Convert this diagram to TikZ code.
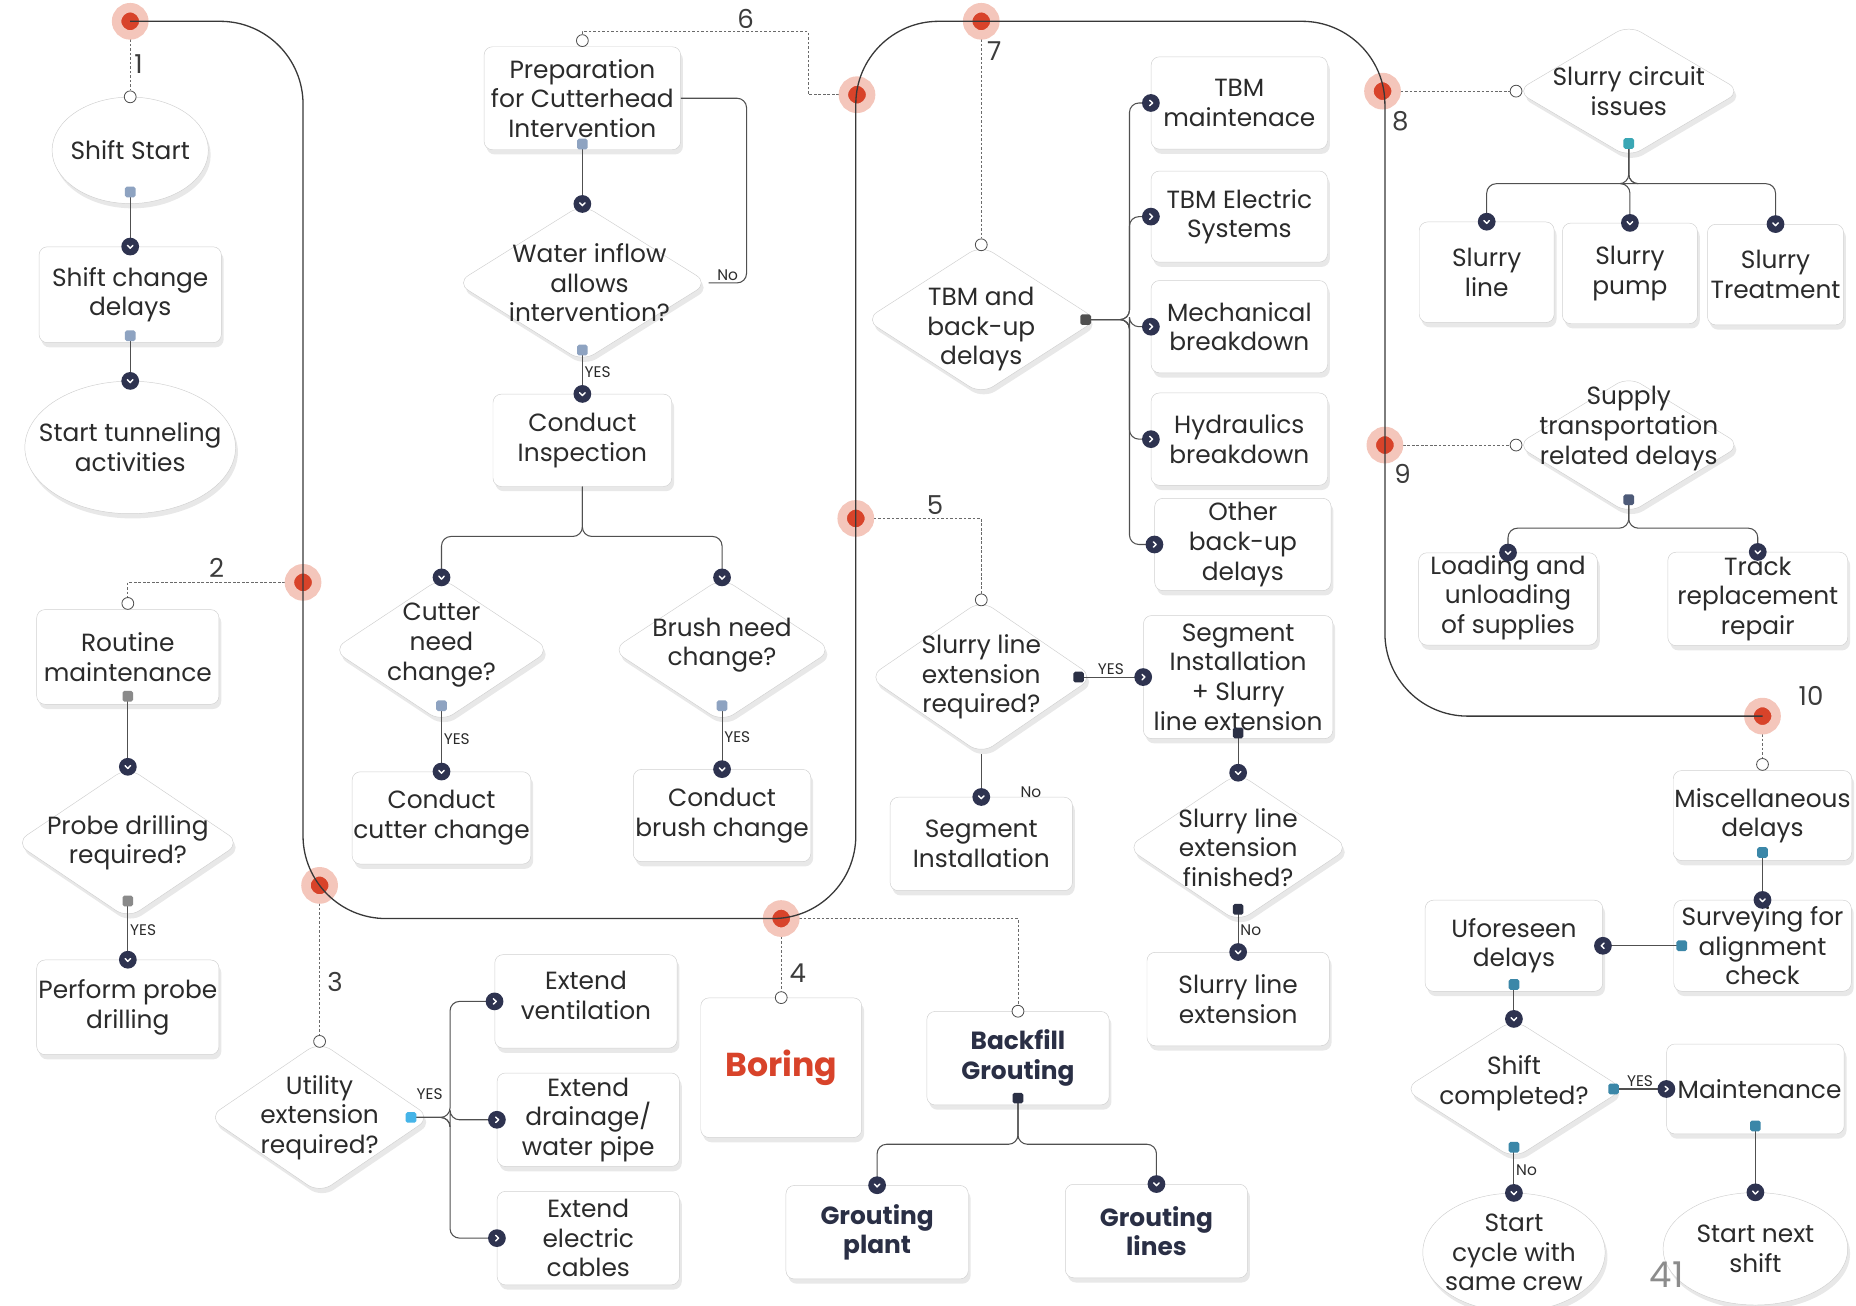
\documentclass[tikz,border=0pt]{standalone}
\usepackage{fontspec}
\setmainfont{Poppins}
\usetikzlibrary{shapes.geometric,shadows}

\definecolor{ink}{HTML}{2B2B2B}
\definecolor{boldink}{HTML}{2A2F45}
\definecolor{navy}{HTML}{2E3350}
\definecolor{rim}{HTML}{D0D0D0}
\definecolor{wire}{HTML}{505050}
\definecolor{spinegray}{HTML}{383838}
\definecolor{stampred}{HTML}{D8432A}
\definecolor{halo}{HTML}{F4C6BB}
\definecolor{slate}{HTML}{8EA3C1}
\definecolor{ash}{HTML}{8A8A8A}
\definecolor{sky}{HTML}{45B4E8}
\definecolor{aqua}{HTML}{3AA7B5}
\definecolor{inkbox}{HTML}{2B3045}
\definecolor{dusk}{HTML}{4D5A78}
\definecolor{steel}{HTML}{3B87A8}
\definecolor{pagegray}{HTML}{8C8C8C}
\definecolor{numgray}{HTML}{3C3C3C}

\tikzset{
  soft/.style={drop shadow={shadow xshift=2pt, shadow yshift=-4pt, opacity=.09, fill=black}},
  task/.style={draw=rim, fill=white, rounded corners=7pt, align=center, inner sep=1pt,
    text=ink, soft, minimum width=154pt, minimum height=79pt},
  query/.style={diamond, draw=rim, fill=white, rounded corners=12pt, inner sep=0pt, soft},
  terminal/.style={ellipse, draw=rim, fill=white, inner sep=0pt, soft},
  words/.style={align=center, text=ink, inner sep=0pt},
  heavy/.style={font=\fontsize{21}{25}\selectfont\bfseries, text=boldink},
  flow/.style={draw=wire, line width=.9pt, rounded corners=8pt},
  hint/.style={draw=wire!85, line width=.8pt, dash pattern=on 2.2pt off 1.6pt},
  spine/.style={draw=spinegray, line width=1.1pt, rounded corners=70pt},
  outlet/.style={fill=#1, rounded corners=1.5pt, minimum size=9pt, inner sep=0pt},
  inlet/.style={circle, draw=wire, fill=white, line width=.7pt, minimum size=10pt, inner sep=0pt},
  stamp/.style={circle, fill=stampred, draw=halo, line width=8pt, minimum size=23pt, inner sep=0pt},
  numtag/.style={font=\fontsize{22}{22}\selectfont, text=numgray, inner sep=0pt},
  answer/.style={font=\fontsize{13}{13}\selectfont, text=ink, inner sep=1.5pt},
  chevron/.style={draw=white, fill=none, sharp corners, line width=1.2pt, line cap=round, line join=round},
  downtip/.style={circle, fill=navy, inner sep=0pt, minimum size=15pt,
    path picture={\draw[chevron]
      ([shift={(-2.3pt,1pt)}]path picture bounding box.center) --
      ([shift={(0pt,-1.4pt)}]path picture bounding box.center) --
      ([shift={(2.3pt,1pt)}]path picture bounding box.center);}},
  righttip/.style={circle, fill=navy, inner sep=0pt, minimum size=15pt,
    path picture={\draw[chevron]
      ([shift={(-1pt,2.3pt)}]path picture bounding box.center) --
      ([shift={(1.4pt,0pt)}]path picture bounding box.center) --
      ([shift={(-1pt,-2.3pt)}]path picture bounding box.center);}},
  lefttip/.style={circle, fill=navy, inner sep=0pt, minimum size=15pt,
    path picture={\draw[chevron]
      ([shift={(1pt,2.3pt)}]path picture bounding box.center) --
      ([shift={(-1.4pt,0pt)}]path picture bounding box.center) --
      ([shift={(1pt,-2.3pt)}]path picture bounding box.center);}},
}

\begin{document}
\begin{tikzpicture}[x=1pt, y=-1pt, font=\fontsize{21}{25}\selectfont]
\useasboundingbox (0,0) rectangle (1568,1103);

% stations along the spine
\coordinate (p1) at (110,18);
\coordinate (p2) at (256,492);
\coordinate (p3) at (270,748);
\coordinate (p4) at (660,776);
\coordinate (p5) at (723,438);
\coordinate (p6) at (724,80);
\coordinate (p7) at (829,18);
\coordinate (p8) at (1168,77);
\coordinate (p9) at (1170,376);
\coordinate (p10) at (1489,605);

% shift start / routine
\node[terminal, minimum width=132pt, minimum height=90pt, label={[words]center:Shift Start}] (shiftstart) at (110,127) {};
\node[task, minimum height=81pt] (shiftdelay) at (110,249) {Shift change\\delays};
\node[terminal, minimum width=178pt, minimum height=112pt, label={[words]center:Start tunneling\\activities}] (tunnel) at (110,378) {};
\node[task, minimum height=80pt] (routine) at (108,555) {Routine\\maintenance};
\node[query, minimum width=190pt, minimum height=128pt, label={[words]center:Probe drilling\\required?}] (probe) at (108,712) {};
\node[task, minimum height=80pt] (probedrill) at (108,851) {Perform probe\\drilling};

% cutterhead intervention
\node[task, minimum width=166pt, minimum height=87pt] (prep) at (492,83) {Preparation\\for Cutterhead\\Intervention};
\node[query, minimum width=213pt, minimum height=133pt, label={[words, xshift=6pt]center:Water inflow\\allows\\intervention?}] (water) at (492,239) {};
\node[task, minimum width=151pt, minimum height=78pt] (inspect) at (492,372) {Conduct\\Inspection};
\node[query, minimum width=184pt, minimum height=122pt, label={[words, yshift=4pt]center:Cutter\\need\\change?}] (cutter) at (373,549) {};
\node[query, minimum width=186pt, minimum height=122pt, label={[words, yshift=4pt]center:Brush need\\change?}] (brush) at (610,549) {};
\node[task, minimum width=149pt, minimum height=78pt] (cutterchg) at (373,691) {Conduct\\cutter change};
\node[task, minimum width=150pt, minimum height=78pt] (brushchg) at (610,689) {Conduct\\brush change};

% utilities
\node[query, minimum width=188pt, minimum height=128pt, label={[words]center:Utility\\extension\\required?}] (utility) at (270,944) {};
\node[task, text depth=10pt] (vent) at (495,846) {Extend\\ventilation};
\node[task] (drain) at (497,946) {Extend\\drainage/\\water pipe};
\node[task] (cables) at (497,1046) {Extend\\electric\\cables};

% boring and grouting
\node[task, minimum width=136pt, minimum height=118pt, text=stampred,
  font=\fontsize{28}{28}\selectfont\bfseries] (boring) at (660,902) {Boring};
\node[task, heavy] (backfill) at (860,894) {Backfill\\Grouting};
\node[task, heavy] (gplant) at (741,1041) {Grouting\\plant};
\node[task, heavy] (glines) at (977,1040) {Grouting\\lines};

% TBM delays
\node[query, minimum width=196pt, minimum height=126pt, label={[words, yshift=-8pt]center:TBM and\\back-up\\delays}] (tbm) at (829,270) {};
\node[task, minimum width=149pt, minimum height=78pt] (tbmmaint) at (1047,87) {TBM\\maintenace};
\node[task, minimum width=149pt, minimum height=77pt] (tbmelec) at (1047,183) {TBM Electric\\Systems};
\node[task, minimum width=149pt, minimum height=78pt] (mech) at (1047,276) {Mechanical\\breakdown};
\node[task, minimum width=149pt, minimum height=78pt] (hydr) at (1047,371) {Hydraulics\\breakdown};
\node[task, minimum width=149pt, minimum height=78pt] (other) at (1050,460) {Other\\back-up\\delays};

% segments and slurry line
\node[query, minimum width=190pt, minimum height=130pt, label={[words]center:Slurry line\\extension\\required?}] (slurryreq) at (829,572) {};
\node[task, minimum width=160pt, minimum height=104pt] (segslurry) at (1046,572) {Segment\\Installation\\+ Slurry\\line extension};
\node[task] (segment) at (829,713) {Segment\\Installation};
\node[query, minimum width=188pt, minimum height=126pt, label={[words]center:Slurry line\\extension\\finished?}] (slurryfin) at (1046,716) {};
\node[task] (slurryext) at (1046,844) {Slurry line\\extension};

% slurry circuit and supplies
\node[query, minimum width=190pt, minimum height=112pt, label={[words]center:Slurry circuit\\issues}] (circuit) at (1376,77) {};
\node[task, minimum width=114pt, minimum height=85pt] (sline) at (1256,230) {Slurry\\line};
\node[task, minimum width=114pt, minimum height=85pt] (spump) at (1377,231) {Slurry\\pump};
\node[task, minimum width=115pt, minimum height=85pt] (streat) at (1500,232) {Slurry\\Treatment};
\node[query, minimum width=190pt, minimum height=116pt, label={[words, yshift=14pt]center:Supply\\transportation\\related delays}] (supply) at (1376,376) {};
\node[task, minimum width=151pt, minimum height=78pt, text depth=8pt] (loading) at (1274,506) {Loading and\\unloading\\of supplies};
\node[task, minimum width=152pt, minimum height=79pt] (track) at (1485,506) {Track\\replacement\\repair};

% end of shift
\node[task, minimum width=150pt, minimum height=76pt] (misc) at (1489,689) {Miscellaneous\\delays};
\node[task, minimum width=150pt, minimum height=77pt] (survey) at (1489,799) {Surveying for\\alignment\\check};
\node[task, minimum width=150pt, minimum height=77pt] (unforeseen) at (1279,799) {Uforeseen\\delays};
\node[query, minimum width=186pt, minimum height=118pt, label={[words, yshift=5pt]center:Shift\\completed?}] (shiftdone) at (1279,920) {};
\node[task, minimum width=150pt, minimum height=76pt] (maint) at (1483,920) {\hspace*{7pt}Maintenance};
\node[terminal, minimum width=154pt, minimum height=100pt, label={[words]center:Start\\cycle with\\same crew}] (samecrew) at (1279,1058) {};
\node[terminal, minimum width=156pt, minimum height=95pt, label={[words]center:Start next\\shift}] (nextshift) at (1483,1055) {};
\node[text=pagegray, font=\fontsize{30}{30}\selectfont] (page) at (1408,1077) {41};

% entry points of the stations
\node[inlet] (h1) at (shiftstart.north) {};
\node[inlet] (h2) at ([yshift=5pt]routine.north) {};
\node[inlet] (h3) at (utility.north) {};
\node[inlet] (h4) at (boring.north) {};
\node[inlet] (h4b) at (backfill.north) {};
\node[inlet] (h5) at (slurryreq.north) {};
\node[inlet] (h6) at ([yshift=5pt]prep.north) {};
\node[inlet] (h7) at (tbm.north) {};
\node[inlet] (h8) at (circuit.west) {};
\node[inlet] (h9) at (supply.west) {};
\node[inlet] (h10) at ([yshift=5pt]misc.north) {};

% dotted feeders
\draw[hint] (p1) -- (h1);
\draw[hint] (p2) -| (h2);
\draw[hint] (p3) -- (h3);
\draw[hint] (p4) -- (h4);
\draw[hint] (p4) -| (h4b);
\draw[hint] (p5) -| (h5);
\draw[hint] (p6) -- ++(-41,0) -- ++(0,-53) -| (h6);
\draw[hint] (p7) -- (h7);
\draw[hint] (p8) -- (h8);
\draw[hint] (p9) -- (h9);
\draw[hint] (p10) -- (h10);

% stations and the spine through them
\foreach \i in {1,...,10}
  \node[stamp] (s\i) at (p\i) {};
\draw[spine] (s1.center) -- (256,18) -- (256,776) -- (723,776) -- (723,18)
  -- (1170,18) -- (1170,605) -- (s10.center);

\node[numtag] (n1) at (117,54) {1};
\node[numtag] (n2) at (183,480) {2};
\node[numtag] (n3) at (283,830) {3};
\node[numtag] (n4) at (674,822) {4};
\node[numtag] (n5) at (790,427) {5};
\node[numtag] (n6) at (630,16) {6};
\node[numtag] (n7) at (840,43) {7};
\node[numtag] (n8) at (1183,102) {8};
\node[numtag] (n9) at (1185,400) {9};
\node[numtag] (n10) at (1530,588) {10};

% shift start / routine
\draw[flow] ([yshift=10pt]shiftstart.south) node[outlet=slate]{} -- (shiftdelay.north) node[downtip]{};
\draw[flow] ([yshift=6pt]shiftdelay.south) node[outlet=slate]{} -- (tunnel.north) node[downtip]{};
\draw[flow] ([yshift=7pt]routine.south) node[outlet=ash]{} -- (probe.north) node[downtip]{};
\draw[flow] ([yshift=15pt]probe.south) node[outlet=ash]{} -- node[answer, right] (yes1) {YES} (probedrill.north) node[downtip]{};

% cutterhead intervention
\draw[flow] ([yshift=5pt]prep.south) node[outlet=slate]{} -- (water.north) node[downtip]{};
\draw[flow] ([yshift=10pt]water.south) node[outlet=slate]{} -- node[answer, right] (yes2) {YES} (inspect.north) node[downtip]{};
\draw[flow] (water.east) -- node[answer, above] (no1) {No} ++(32,0) |- (prep.east);
\draw[flow] (inspect.south) -- ++(0,42) -| (cutter.north) node[downtip]{};
\draw[flow] (inspect.south) -- ++(0,42) -| (brush.north) node[downtip]{};
\draw[flow] ([yshift=14pt]cutter.south) node[outlet=slate]{} -- node[answer, right] (yes3) {YES} (cutterchg.north) node[downtip]{};
\draw[flow] ([yshift=14pt]brush.south) node[outlet=slate]{} -- node[answer, right] (yes4) {YES} (brushchg.north) node[downtip]{};

% utilities
\foreach \leaf in {vent,drain,cables}
  \draw[flow] ([xshift=-17pt]utility.east) -- ++(33,0) |- (\leaf.west) node[righttip]{};
\node[outlet=sky] (uout) at ([xshift=-17pt]utility.east) {};
\node[answer] (yes5) at (363,924) {YES};

% grouting
\foreach \leaf in {gplant,glines}
  \draw[flow] ([yshift=6pt]backfill.south) -- ++(0,39) -| (\leaf.north) node[downtip]{};
\node[outlet=inkbox] (bout) at ([yshift=6pt]backfill.south) {};

% TBM delays
\foreach \leaf in {tbmmaint,tbmelec,mech,hydr,other}
  \draw[flow] ([xshift=-10pt]tbm.east) -- ++(37,0) |- (\leaf.west) node[righttip]{};
\node[outlet=wire] (tout) at ([xshift=-10pt]tbm.east) {};

% segments and slurry line
\draw[flow] ([xshift=-13pt]slurryreq.east) node[outlet=inkbox]{} -- node[answer, above] (yes6) {YES} (segslurry.west) node[righttip]{};
\draw[flow] (slurryreq.south) -- (segment.north) node[downtip]{};
\node[answer] (no2) at (871,669) {No};
\draw[flow] ([yshift=5pt]segslurry.south) node[outlet=inkbox]{} -- (slurryfin.north) node[downtip]{};
\draw[flow] ([yshift=11pt]slurryfin.south) node[outlet=inkbox]{} -- node[answer, right] (no3) {No} (slurryext.north) node[downtip]{};

% slurry circuit and supplies
\foreach \leaf in {sline,spump,streat}
  \draw[flow] ([yshift=12pt]circuit.south) -- ++(0,34) -| (\leaf.north) node[downtip]{};
\node[outlet=aqua] (cout) at ([yshift=12pt]circuit.south) {};
\foreach \leaf in {loading,track}
  \draw[flow] ([yshift=12pt]supply.south) -- ++(0,24) -| (\leaf.north) node[downtip]{};
\node[outlet=dusk] (sout) at ([yshift=12pt]supply.south) {};

% end of shift
\draw[flow] ([yshift=7pt]misc.south) node[outlet=steel]{} -- (survey.north) node[downtip]{};
\draw[flow] ([xshift=7pt]survey.west) node[outlet=steel]{} -- (unforeseen.east) node[lefttip]{};
\draw[flow] ([yshift=6pt]unforeseen.south) node[outlet=steel]{} -- (shiftdone.north) node[downtip]{};
\draw[flow] ([xshift=-9pt]shiftdone.east) node[outlet=steel]{} -- node[answer, above] (yes7) {YES} (maint.west) node[righttip]{};
\draw[flow] ([yshift=10pt]shiftdone.south) node[outlet=steel]{} -- node[answer, right] (no4) {No} (samecrew.north) node[downtip]{};
\draw[flow] ([yshift=7pt]maint.south) node[outlet=steel]{} -- (nextshift.north) node[downtip]{};
\end{tikzpicture}
\end{document}
